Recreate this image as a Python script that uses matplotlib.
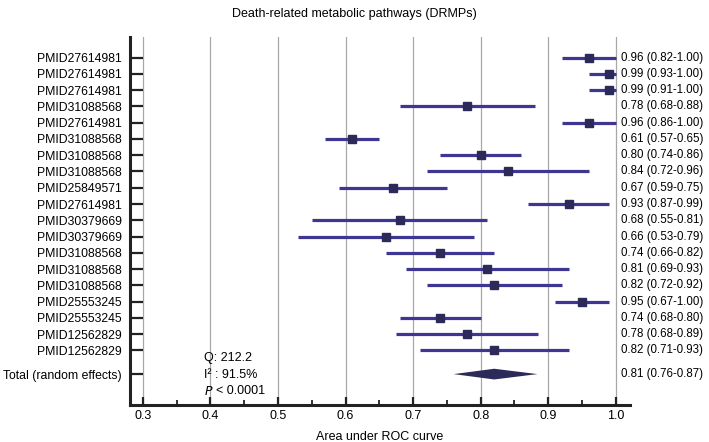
import matplotlib
matplotlib.use('Agg')
import matplotlib.pyplot as plt
from matplotlib.ticker import MultipleLocator

plt.rcParams['font.family'] = ['Liberation Sans', 'DejaVu Sans']

# study rows, top to bottom
studies = ['PMID27614981', 'PMID27614981', 'PMID27614981', 'PMID31088568',
           'PMID27614981', 'PMID31088568', 'PMID31088568', 'PMID31088568',
           'PMID25849571', 'PMID27614981', 'PMID30379669', 'PMID30379669',
           'PMID31088568', 'PMID31088568', 'PMID31088568', 'PMID25553245',
           'PMID25553245', 'PMID12562829', 'PMID12562829']
auc = [0.96, 0.99, 0.99, 0.78, 0.96, 0.61, 0.80, 0.84, 0.67, 0.93,
       0.68, 0.66, 0.74, 0.81, 0.82, 0.95, 0.74, 0.78, 0.82]
# interval ends as drawn in the picture
ci_lo = [0.92, 0.96, 0.96, 0.68, 0.92, 0.57, 0.74, 0.72, 0.59, 0.87,
         0.55, 0.53, 0.66, 0.69, 0.72, 0.91, 0.68, 0.675, 0.71]
ci_hi = [1.00, 1.00, 1.00, 0.88, 1.00, 0.65, 0.86, 0.96, 0.75, 0.99,
         0.81, 0.79, 0.82, 0.93, 0.92, 0.99, 0.80, 0.885, 0.93]
ci_text = ['0.96 (0.82-1.00)', '0.99 (0.93-1.00)', '0.99 (0.91-1.00)',
           '0.78 (0.68-0.88)', '0.96 (0.86-1.00)', '0.61 (0.57-0.65)',
           '0.80 (0.74-0.86)', '0.84 (0.72-0.96)', '0.67 (0.59-0.75)',
           '0.93 (0.87-0.99)', '0.68 (0.55-0.81)', '0.66 (0.53-0.79)',
           '0.74 (0.66-0.82)', '0.81 (0.69-0.93)', '0.82 (0.72-0.92)',
           '0.95 (0.67-1.00)', '0.74 (0.68-0.80)', '0.78 (0.68-0.89)',
           '0.82 (0.71-0.93)']
total_label = 'Total (random effects)'
total_auc, total_lo, total_hi = 0.82, 0.76, 0.884
total_text = '0.81 (0.76-0.87)'
q_text = 'Q: 212.2'
i2_text = 'I² : 91.5%'
p_text = '< 0.0001'

line_c = '#3f3694'
mark_c = '#2b2a58'

fig = plt.figure(figsize=(7.09, 4.42), dpi=100)
ax = fig.add_axes([0.1834, 0.0837, 0.7052, 0.8333])

n = len(studies)
ys = [-i for i in range(n)]
for y, a, lo, hi in zip(ys, auc, ci_lo, ci_hi):
    ax.plot([lo, hi], [y, y], color=line_c, lw=2.3, solid_capstyle='butt', zorder=3)
    ax.plot(a, y, 's', color=mark_c, ms=6.2, zorder=4)

total_y = -(n - 1) - 1.46
ax.fill([total_lo, total_auc, total_hi, total_auc],
        [total_y, total_y + 0.33, total_y, total_y - 0.33],
        color=mark_c, lw=0, zorder=4)

ax.set_xlim(0.281, 1.021)
ax.set_ylim(-(n - 1) - 3.36, 1.29)
ticks = [0.3, 0.4, 0.5, 0.6, 0.7, 0.8, 0.9, 1.0]
ax.set_xticks(ticks)
ax.set_xticklabels([])
ax.xaxis.set_minor_locator(MultipleLocator(0.05))
for v in ticks:
    ax.axvline(v, color='#a8a8a8', lw=0.9, zorder=1)
    ax.text(v, -0.014, f'{v:.1f}', transform=ax.get_xaxis_transform(),
            ha='center', va='top', fontsize=9)

ax.set_yticks(ys + [total_y])
ax.set_yticklabels(studies + [total_label], fontsize=8.8)
ax.tick_params(axis='y', direction='in', length=9, width=1.6, pad=6, color='#222222')
ax.tick_params(axis='x', which='major', direction='in', length=6, width=1.6, color='#222222')
ax.tick_params(axis='x', which='minor', direction='in', length=3.5, width=1.3, color='#222222')

for s in ['top', 'right']:
    ax.spines[s].set_visible(False)
for s in ['left', 'bottom']:
    ax.spines[s].set_linewidth(2.2)
    ax.spines[s].set_color('#222222')

for y, t in zip(ys + [total_y], ci_text + [total_text]):
    ax.text(1.007, y, t, ha='left', va='center', fontsize=8.3, clip_on=False)

ax.text(0.391, -(n - 1) - 0.5, q_text, ha='left', va='center', fontsize=9)
ax.text(0.391, -(n - 1) - 1.5, i2_text, ha='left', va='center', fontsize=9)
ax.text(0.391, -(n - 1) - 2.5, r'$P$', ha='left', va='center', fontsize=9)
ax.text(0.408, -(n - 1) - 2.5, p_text, ha='left', va='center', fontsize=9)

ax.set_xlabel('Area under ROC curve', fontsize=9, labelpad=15)
fig.text(0.5, 0.982, 'Death-related metabolic pathways (DRMPs)', ha='center',
         va='top', fontsize=9)

fig.savefig('out.png', dpi=100)
